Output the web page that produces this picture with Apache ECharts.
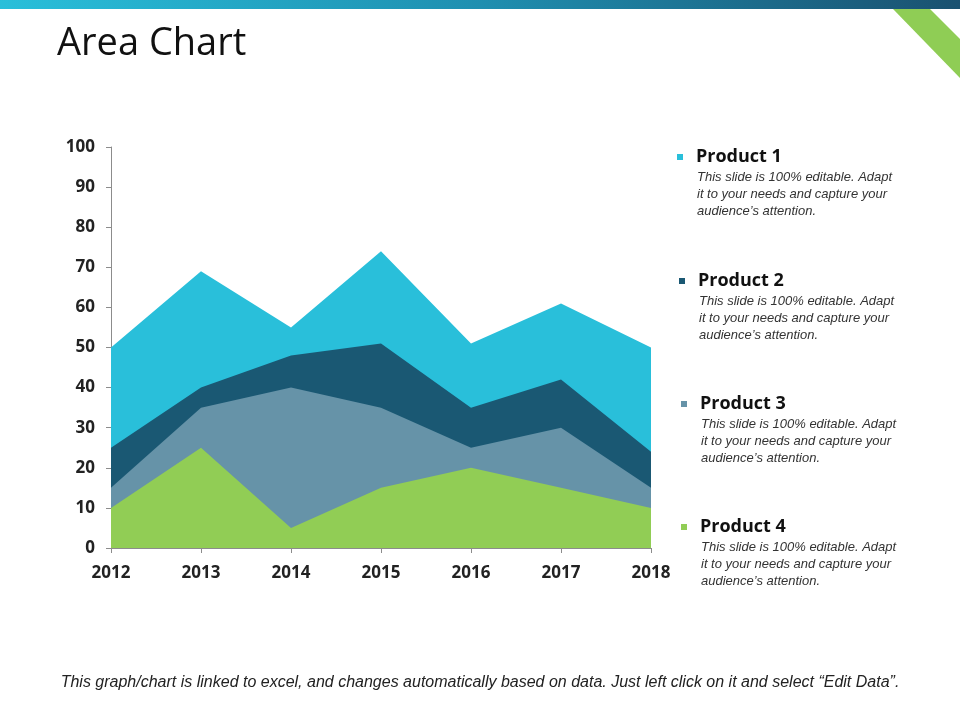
<!DOCTYPE html>
<html>
<head>
<meta charset="utf-8">
<script src="https://cdn.jsdelivr.net/npm/echarts@6/dist/echarts.min.js"></script>
<style>
  html, body { margin: 0; padding: 0; background: #fff; }
  #chart { width: 960px; height: 720px; }
</style>
</head>
<body>
<div id="chart"></div>
<script>
var years = ['2012', '2013', '2014', '2015', '2016', '2017', '2018'];
var product1 = [50, 69, 55, 74, 51, 61, 50];
var product2 = [25, 40, 48, 51, 35, 42, 24];
var product3 = [15, 35, 40, 35, 25, 30, 15];
var product4 = [10, 25, 5, 15, 20, 15, 10];
var names = ['Product 1', 'Product 2', 'Product 3', 'Product 4'];
var colours = ['#29bfda', '#1a5873', '#6693a8', '#91cd55'];
var blurb = 'This slide is 100% editable. Adapt\nit to your needs and capture your\naudience\u2019s attention.';

var chart = echarts.init(document.getElementById('chart'));

var allData = [product1, product2, product3, product4];
var series = [];
var legends = [];
var notes = [];
var legendTops = [143, 267, 390, 513];
var legendLefts = [672, 674, 676, 676];

for (var i = 0; i < 4; i++) {
  series.push({
    name: names[i],
    type: 'line',
    data: allData[i],
    symbol: 'none',
    lineStyle: { width: 0 },
    areaStyle: { color: colours[i], opacity: 1 },
    itemStyle: { color: colours[i] },
    z: 2 + i
  });
  legends.push({
    data: [names[i]],
    left: legendLefts[i],
    top: legendTops[i],
    icon: 'rect',
    itemWidth: 6,
    itemHeight: 6,
    itemGap: 0,
    selectedMode: false,
    textStyle: { fontFamily: 'Open Sans', fontWeight: 'bold', fontSize: 18, color: '#111', padding: [0, 0, 0, 8] }
  });
  notes.push({
    type: 'text',
    left: legendLefts[i] + 25,
    top: legendTops[i] + 26,
    style: {
      text: blurb,
      font: 'italic 13px "Liberation Sans", Arial, sans-serif',
      fill: '#333',
      lineHeight: 17
    }
  });
}

var options = {
  animation: false,
  grid: { left: 111, right: 309, top: 147, bottom: 172 },
  legend: legends,
  xAxis: {
    type: 'category',
    data: years,
    boundaryGap: false,
    axisLine: { show: true, lineStyle: { color: '#8c8c8c' } },
    axisTick: { show: true, length: 5, lineStyle: { color: '#8c8c8c' } },
    axisLabel: { fontFamily: 'Open Sans', fontWeight: 'bold', fontSize: 17, color: '#222', margin: 17 }
  },
  yAxis: {
    type: 'value',
    min: 0,
    max: 100,
    interval: 10,
    axisLine: { show: true, lineStyle: { color: '#8c8c8c' } },
    axisTick: { show: true, length: 5, lineStyle: { color: '#8c8c8c' } },
    splitLine: { show: false },
    axisLabel: { fontFamily: 'Open Sans', fontWeight: 'bold', fontSize: 17, color: '#222', margin: 16 }
  },
  graphic: [
    {
      type: 'rect',
      shape: { x: 0, y: 0, width: 960, height: 9 },
      style: {
        fill: new echarts.graphic.LinearGradient(0, 0, 1, 0, [
          { offset: 0, color: '#29bfda' },
          { offset: 0.5, color: '#1f8fb0' },
          { offset: 1, color: '#1a5170' }
        ])
      }
    },
    {
      type: 'polygon',
      shape: { points: [[893, 9], [930, 9], [960, 39], [960, 78]] },
      style: { fill: '#8fcd55' }
    },
    {
      type: 'text',
      left: 57,
      top: 25,
      style: { text: 'Area Chart', font: '38px "Open Sans", sans-serif', fill: '#111' }
    },
    {
      type: 'text',
      left: 'center',
      top: 675,
      style: {
        text: 'This graph/chart is linked to excel, and changes automatically based on data. Just left click on it and select \u201cEdit Data\u201d.',
        font: 'italic 16px "Liberation Sans", Arial, sans-serif',
        fill: '#222'
      }
    }
  ].concat(notes),
  series: series
};

chart.setOption(options);
</script>
</body>
</html>
